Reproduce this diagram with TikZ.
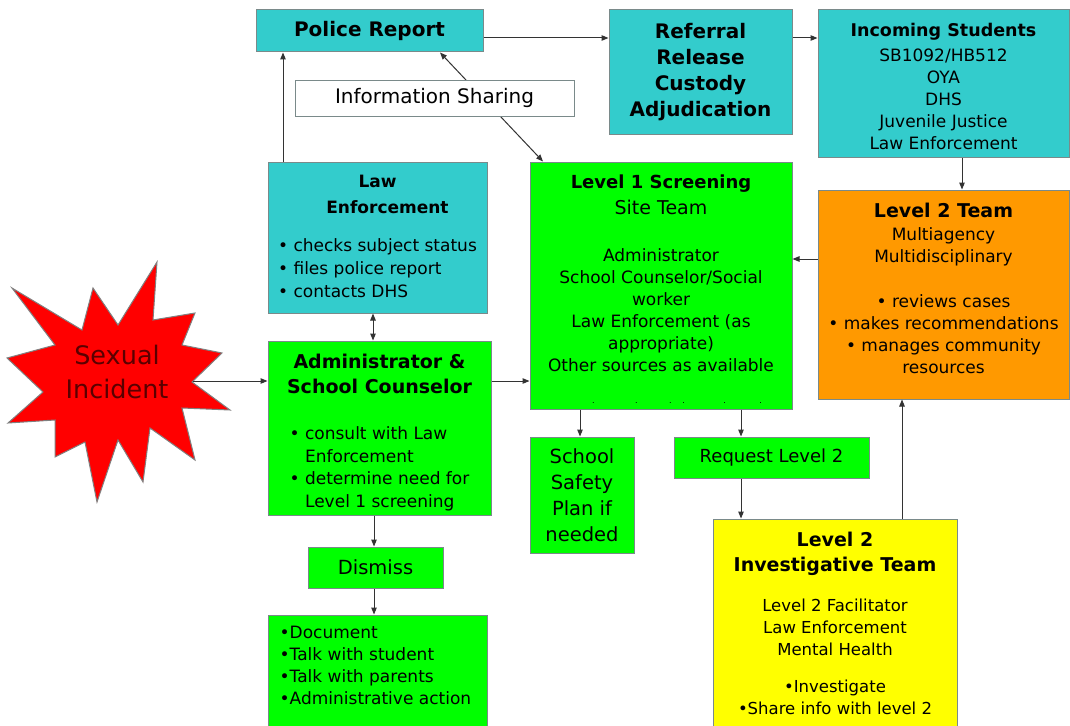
\documentclass[tikz,border=0pt]{standalone}
\usepackage{fontspec}
\setmainfont{DejaVu Sans}
\usetikzlibrary{arrows.meta, positioning}
\definecolor{BoxTeal}{HTML}{33CCCC}
\definecolor{BoxGreen}{HTML}{00FF00}
\definecolor{BoxOrange}{HTML}{FF9900}
\definecolor{BoxYellow}{HTML}{FFFF00}
\definecolor{StarRed}{HTML}{FF0000}
\definecolor{EdgeGray}{HTML}{7A8A8A}
\definecolor{IncidentText}{HTML}{5A0000}
\renewcommand{\arraystretch}{1.04}
\newcommand{\hd}[2][19]{{\bfseries\fontsize{#1}{22}\selectfont #2}}
\tikzset{
  flowbox/.style={draw=EdgeGray, line width=1pt, align=center, inner sep=0pt, font=\fontsize{17}{22}\selectfont},
  tealbox/.style={flowbox, fill=BoxTeal},
  greenbox/.style={flowbox, fill=BoxGreen},
  orangebox/.style={flowbox, fill=BoxOrange},
  yellowbox/.style={flowbox, fill=BoxYellow},
  boxtext/.style={align=center, inner sep=0pt, font=\fontsize{17}{22}\selectfont},
  link/.style={draw=black!80, line width=1pt, ->},
}

\begin{document}
\begin{tikzpicture}[x=1pt, y=-1pt, >={Triangle[length=7pt, width=5.5pt]}]
    \path[use as bounding box, fill=white] (0,0) rectangle (1070,725);
    % top row
    \node[tealbox, minimum width=227pt, minimum height=42pt] (police) at (369.5,31) {\hd[20]{Police Report}};
    \node[tealbox, minimum width=183pt, minimum height=124pt, font=\bfseries\fontsize{20}{26}\selectfont] (referral) at (700.5,72) {Referral\\Release\\Custody\\Adjudication};
    \node[tealbox, minimum width=251pt, minimum height=147pt] (incoming) at (943.5,83.5) {};
    \node[boxtext, below=13.5pt of incoming.north] (incoming-text) {\hd[17.5]{Incoming Students}\\[3pt]SB1092/HB512\\OYA\\DHS\\Juvenile Justice\\Law Enforcement};
    % middle row
    \node[tealbox, minimum width=219pt, minimum height=151pt] (lawenf) at (377.5,237.5) {};
    \node[boxtext, below=13.5pt of lawenf.north] (lawenf-text) {\hd[17]{Law}\\[4pt]\hd[17]{\hspace*{20pt}Enforcement}\\[16pt]\begin{tabular}[t]{@{}l@{}}• checks subject status\\• files police report\\• contacts DHS\end{tabular}};
    \node[greenbox, minimum width=262pt, minimum height=247pt] (lvlone) at (661,285.5) {};
    \node[boxtext, below=13pt of lvlone.north] (lvlone-text) {\hd[18]{Level 1 Screening}\\[4pt]{\fontsize{19}{22}\selectfont Site Team}\\[25pt]Administrator\\School Counselor/Social\\worker\\Law Enforcement (as\\appropriate)\\Other sources as available\\[10pt]{\fontsize{8}{8}\selectfont\hspace*{32pt}.\hspace{40.5pt}.\hspace{31.5pt}.\hspace{10.5pt}.\hspace{38.5pt}.\hspace{33.5pt}.}};
    \node[orangebox, minimum width=251pt, minimum height=209pt] (lvltwo) at (943.5,294.5) {};
    \node[boxtext, below=13pt of lvltwo.north] (lvltwo-text) {\hd{Level 2 Team}\\[1pt]Multiagency\\Multidisciplinary\\[23pt]• reviews cases\\• makes recommendations\\• manages community\\resources};
    \node[greenbox, minimum width=223pt, minimum height=174pt] (admin) at (379.5,428) {};
    \node[boxtext, below=13pt of admin.north] (admin-text) {\hd{Administrator \&}\\[3pt]\hd{School Counselor}\\[24pt]\begin{tabular}[t]{@{}l@{}}• consult with Law\\\phantom{• }Enforcement\\• determine need for\\\phantom{• }Level 1 screening\end{tabular}};
    % lower row
    \node[greenbox, minimum width=104pt, minimum height=116pt, font=\fontsize{19.5}{26}\selectfont] (safety) at (582,495) {School\\Safety\\Plan if\\needed};
    \node[greenbox, minimum width=195pt, minimum height=41pt, font=\fontsize{18}{22}\selectfont] (request) at (771.5,457.5) {Request Level 2};
    \node[greenbox, minimum width=135pt, minimum height=41pt, font=\fontsize{19.5}{22}\selectfont] (dismiss) at (375.5,567.5) {Dismiss};
    \node[greenbox, minimum width=219pt, minimum height=120pt] (dismisslist) at (377.5,675) {};
    \node[boxtext, align=left, below right=11.5pt and 12pt of dismisslist.north west] (dismisslist-text) {•Document\\•Talk with student\\•Talk with parents\\•Administrative action};
    \node[yellowbox, minimum width=244pt, minimum height=208pt, font=\fontsize{16.5}{22}\selectfont] (invest) at (835,623) {\hd{Level 2}\\[3pt]\hd{Investigative Team}\\[18pt]Level 2 Facilitator\\Law Enforcement\\Mental Health\\[15pt]•Investigate\\•Share info with level 2};
    % the incident burst
    \draw[fill=StarRed, draw=gray, line width=1pt] (12,288) -- (82,330) -- (93,288) -- (118,325) -- (157,262) -- (153,320) -- (195,313) -- (182,345) -- (222,353) -- (192,382) -- (230,410) -- (182,408) -- (195,460) -- (150,428) -- (143,482) -- (118,440) -- (97,502) -- (85,442) -- (55,457) -- (55,420) -- (8,423) -- (43,392) -- (7,358) -- (55,345) -- cycle;
    \node[font=\fontsize{25.5}{34}\selectfont, text=IncidentText, align=center] (incident) at (117,372) {Sexual\\Incident};
    \coordinate (burst) at (193,381);
    % connectors
    \coordinate (prline) at ([yshift=-7pt]police.east);
    \draw[link] (prline) -- (prline -| referral.west);
    \draw[link] (prline -| referral.east) -- (prline -| incoming.west);
    \draw[link] ([xshift=18.5pt]incoming.south) -- ([xshift=18.5pt]lvltwo.north);
    \draw[link] ([yshift=35.5pt]lvltwo.west) -- ([yshift=26.5pt]lvlone.east);
    \draw[link] ([xshift=-94.5pt]lawenf.north) -- ([xshift=-86.5pt]police.south);
    \draw[link, <->] ([xshift=70.5pt]police.south) -- ([xshift=-118pt]lvlone.north);
    \draw[link, <->] ([xshift=-4.5pt]lawenf.south) -- ([xshift=-6.5pt]admin.north);
    \draw[link] (burst) -- (burst -| admin.west);
    \draw[link] ([yshift=47pt]admin.east) -- ([yshift=-95.5pt]lvlone.west);
    \draw[link] ([xshift=-5.5pt]admin.south) -- ([xshift=-1.5pt]dismiss.north);
    \draw[link] ([xshift=-1.5pt]dismiss.south) -- ([xshift=-3.5pt]dismisslist.north);
    \draw[link] ([xshift=-81pt]lvlone.south) -- ([xshift=-2pt]safety.north);
    \draw[link] ([xshift=80pt]lvlone.south) -- ([xshift=-30.5pt]request.north);
    \draw[link] ([xshift=-30.5pt]request.south) -- ([xshift=-94pt]invest.north);
    \draw[link] ([xshift=67pt]invest.north) -- ([xshift=-41.5pt]lvltwo.south);
    % label over the sharing line
    \node[draw=EdgeGray, fill=white, line width=1pt, minimum width=279pt, minimum height=36pt, inner sep=0pt, font=\fontsize{20}{22}\selectfont] (sharing) at (434.5,98) {Information Sharing};
\end{tikzpicture}
\end{document}
